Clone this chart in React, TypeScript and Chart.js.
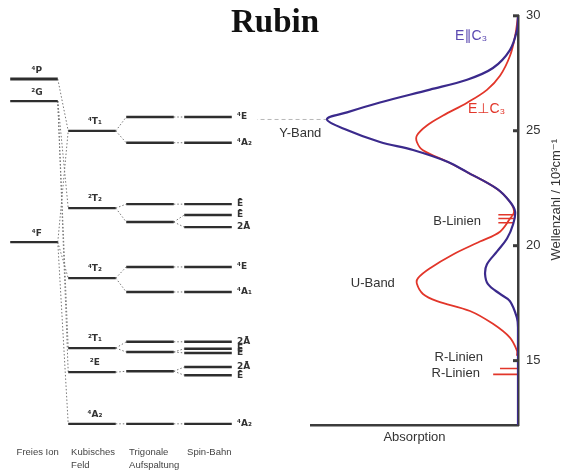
import React, { useEffect, useRef } from "react";
import { Chart, registerables } from "chart.js";

Chart.register(...registerables);

// ---------- data ----------
const WN_MIN = 12.2;
const WN_MAX = 30;
const yTickValues = [15, 20, 25, 30];

const columnLabels = [["Freies Ion"], ["Kubisches", "Feld"], ["Trigonale", "Aufspaltung"], ["Spin-Bahn"]];

const freeIonTerms = ["⁴P", "²G", "⁴F"];
const freeIonEnergies = [27.13, 26.18, 20.09];

const cubicTerms = ["⁴T₁", "²T₂", "⁴T₂", "²T₁", "²E", "⁴A₂"];
const cubicEnergies = [24.89, 21.56, 18.54, 15.52, 14.48, 12.25];
// [free-ion index, cubic index]
const cubicLinks = [[0, 0], [2, 0], [1, 1], [2, 2], [1, 3], [1, 4], [2, 5]];

const trigonalEnergies = [25.49, 24.38, 21.73, 20.96, 19.02, 17.94, 15.79, 15.35, 14.52, 12.25];
const trigonalParents = [0, 0, 1, 1, 2, 2, 3, 3, 4, 5];

const spinOrbitTerms = ["⁴E", "⁴A₂", "Ē", "Ē", "2Ā", "⁴E", "⁴A₁", "2Ā", "Ē", "Ē", "2Ā", "Ē", "⁴A₂"];
const spinOrbitEnergies = [25.49, 24.38, 21.73, 21.26, 20.74, 19.02, 17.94, 15.79, 15.49, 15.31, 14.7, 14.35, 12.25];
const spinOrbitParents = [0, 1, 2, 3, 3, 4, 5, 6, 7, 7, 8, 8, 9];

// absorption spectrum (wavenumber in 10^3 cm^-1, absorption in arbitrary units)
const wnParallel = [29.98, 29.37, 28.51, 27.73, 27.22, 26.79, 26.23, 25.8, 25.5, 25.03, 24.51, 24.16, 23.64, 23.2, 22.47, 21.91, 21.48, 20.92, 20.31, 19.75, 19.19, 18.76, 18.33, 17.9, 17.59, 16.86, 16.43, 12.2];
const absParallel = [0, 0.05, 0.39, 1.21, 2.46, 4.25, 6.67, 8.26, 9.23, 8.26, 6.67, 5.07, 3.38, 2.46, 1.01, 0.39, 0.14, 0.24, 0.53, 1.01, 1.5, 1.59, 1.45, 0.87, 0.39, 0.05, 0, 0];

const wnPerp = [29.98, 29.12, 28.25, 27.39, 26.78, 26.22, 25.66, 25.23, 24.8, 24.5, 24.15, 23.64, 23.2, 22.47, 21.91, 21.48, 21.17, 20.61, 20.18, 19.62, 19.02, 18.59, 18.33, 17.9, 17.59, 17.16, 16.6, 16.0, 15.43, 15.21];
const absPerp = [0, 0.14, 0.39, 0.87, 1.5, 2.46, 3.62, 4.4, 4.88, 4.88, 4.59, 3.38, 2.46, 1.01, 0.39, 0.19, 0.39, 0.87, 1.84, 3.14, 4.25, 4.83, 4.88, 4.59, 3.91, 2.32, 1.21, 0.39, 0.05, 0.05];

const bLineWn = [21.35, 21.18, 21.0];
const bLineAbs = [0.75, 0.75, 0.75];
const rLineWn = [14.66, 14.4];
const rLineAbs = [0.87, 1.2];

const yBandLink = { wn: 25.49, from: 9.2, to: 12.6 };

// ---------- styles ----------
const SANS = '"Liberation Sans", Arial, "DejaVu Sans", sans-serif';
const SYM = '"DejaVu Sans", "Liberation Sans", sans-serif';
const LEVEL = "#2e2e2e";
const LINK = "#777";
const AXIS = "#3c3c3c";
const TEXT = "#333";
const BLUE = "#3b2a8c";
const PURPLE = "#5a48b0";
const RED = "#e2362a";
const COL_HALF = 0.41;

const spectrumNotes = [
  { text: "Y-Band", abs: 9.5, wn: 24.9, align: "right", color: TEXT, size: 13 },
  { text: "U-Band", abs: 5.95, wn: 18.37, align: "right", color: TEXT, size: 13 },
  { text: "B-Linien", abs: 1.79, wn: 21.04, align: "right", color: TEXT, size: 13 },
  { text: "R-Linien", abs: 1.69, wn: 15.13, align: "right", color: TEXT, size: 13 },
  { text: "R-Linien", abs: 1.84, wn: 14.44, align: "right", color: TEXT, size: 13 },
  { text: "E∥C₃", abs: 3.04, wn: 29.12, align: "left", color: PURPLE, size: 14 },
  { text: "E⊥C₃", abs: 2.42, wn: 25.92, align: "left", color: RED, size: 14 },
];

function seg(x0: number, y0: number, x1: number, y1: number, color: string, width: number, dash: number[] = []) {
  return {
    data: [{ x: x0, y: y0 }, { x: x1, y: y1 }],
    borderColor: color,
    borderWidth: width,
    borderDash: dash,
    pointRadius: 0,
    showLine: true,
    tension: 0,
  };
}

function diagramConfig(): any {
  const ds: any[] = [];
  freeIonEnergies.forEach((e, i) => ds.push(seg(0 - COL_HALF, e, 0 + COL_HALF, e, LEVEL, i === 0 ? 3 : 2.2)));
  cubicEnergies.forEach((e) => ds.push(seg(1 - COL_HALF, e, 1 + COL_HALF, e, LEVEL, 2.2)));
  trigonalEnergies.forEach((e) => ds.push(seg(2 - COL_HALF, e, 2 + COL_HALF, e, LEVEL, 2.4)));
  spinOrbitEnergies.forEach((e) => ds.push(seg(3 - COL_HALF, e, 3 + COL_HALF, e, LEVEL, 2.4)));
  cubicLinks.forEach(([f, c]) =>
    ds.push(seg(0 + COL_HALF, freeIonEnergies[f], 1 - COL_HALF, cubicEnergies[c], LINK, 1, [1.5, 2]))
  );
  trigonalEnergies.forEach((e, i) =>
    ds.push(seg(1 + COL_HALF, cubicEnergies[trigonalParents[i]], 2 - COL_HALF, e, LINK, 1, [1.5, 2]))
  );
  spinOrbitEnergies.forEach((e, i) =>
    ds.push(seg(2 + COL_HALF, trigonalEnergies[spinOrbitParents[i]], 3 - COL_HALF, e, LINK, 1, [1.5, 2]))
  );

  const labelPlugin = {
    id: "termLabels",
    afterDatasetsDraw(chart: any) {
      const { ctx, scales } = chart;
      const xs = scales.x;
      const ys = scales.y;
      ctx.save();
      ctx.fillStyle = TEXT;
      ctx.font = "bold 9px " + SYM;
      ctx.textAlign = "center";
      ctx.textBaseline = "alphabetic";
      freeIonTerms.forEach((t, i) => {
        ctx.fillText(t, xs.getPixelForValue(0.05), ys.getPixelForValue(freeIonEnergies[i]) - 6);
      });
      cubicTerms.forEach((t, i) => {
        ctx.fillText(t, xs.getPixelForValue(1.05), ys.getPixelForValue(cubicEnergies[i]) - 7);
      });
      ctx.textAlign = "left";
      ctx.textBaseline = "middle";
      spinOrbitTerms.forEach((t, i) => {
        ctx.fillText(t, xs.getPixelForValue(3 + 0.5), ys.getPixelForValue(spinOrbitEnergies[i]));
      });
      ctx.restore();
    },
  };

  const labelTicks = [-0.3, 0.64, 1.64, 2.64];
  return {
    type: "scatter",
    data: { datasets: ds },
    plugins: [labelPlugin],
    options: {
      animation: false,
      responsive: false,
      devicePixelRatio: 1,
      events: [],
      layout: { padding: { top: 12.5, left: 0, right: 0, bottom: 0 } },
      plugins: { legend: { display: false }, tooltip: { enabled: false } },
      scales: {
        x: {
          type: "linear",
          min: -0.586,
          max: 4.586,
          grid: { display: false, drawTicks: false },
          border: { display: false },
          afterBuildTicks: (s: any) => {
            s.ticks = labelTicks.map((v) => ({ value: v }));
          },
          afterFit: (s: any) => {
            s.height = 45;
            s.paddingLeft = 0;
            s.paddingRight = 0;
          },
          ticks: {
            autoSkip: false,
            maxRotation: 0,
            align: "start",
            padding: 21,
            color: "#444",
            font: { size: 9.5, family: SANS, lineHeight: 1.35 },
            callback: (_v: any, i: number) => columnLabels[i],
          },
        },
        y: { type: "linear", display: false, min: WN_MIN, max: WN_MAX },
      },
    },
  };
}

function spectrumConfig(): any {
  const ds: any[] = [
    {
      data: wnParallel.map((w, i) => ({ x: absParallel[i], y: w })),
      borderColor: BLUE,
      borderWidth: 2.2,
      pointRadius: 0,
      showLine: true,
      tension: 0.35,
    },
    {
      data: wnPerp.map((w, i) => ({ x: absPerp[i], y: w })),
      borderColor: RED,
      borderWidth: 1.8,
      pointRadius: 0,
      showLine: true,
      tension: 0.35,
    },
  ];
  bLineWn.forEach((w, i) => ds.push(seg(0.2, w, 0.2 + bLineAbs[i], w, RED, 1.5)));
  rLineWn.forEach((w, i) => ds.push(seg(0, w, rLineAbs[i], w, RED, 1.6)));
  const link: any = seg(yBandLink.from, yBandLink.wn, yBandLink.to, yBandLink.wn, "#b8b8b8", 1, [4, 3]);
  link.clip = false;
  ds.push(link);

  const notesPlugin = {
    id: "notes",
    afterDraw(chart: any) {
      const { ctx, scales, chartArea } = chart;
      const xs = scales.x;
      const ys = scales.y;
      ctx.save();
      // inward tick marks
      ctx.strokeStyle = AXIS;
      ctx.lineWidth = 3;
      yTickValues.forEach((v) => {
        const y = ys.getPixelForValue(v);
        ctx.beginPath();
        ctx.moveTo(chartArea.right - 5, y);
        ctx.lineTo(chartArea.right + 1, y);
        ctx.stroke();
      });
      spectrumNotes.forEach((n) => {
        ctx.fillStyle = n.color;
        ctx.font = `${n.size}px ${SANS}`;
        ctx.textAlign = n.align;
        ctx.textBaseline = "middle";
        ctx.fillText(n.text, xs.getPixelForValue(n.abs), ys.getPixelForValue(n.wn));
      });
      // rotated axis title
      ctx.translate(chartArea.right + 38, ys.getPixelForValue(22));
      ctx.rotate(-Math.PI / 2);
      ctx.fillStyle = TEXT;
      ctx.font = `13px ${SANS}`;
      ctx.textAlign = "center";
      ctx.textBaseline = "middle";
      ctx.fillText("Wellenzahl / 10³cm⁻¹", 0, 0);
      ctx.restore();
    },
  };

  return {
    type: "scatter",
    data: { datasets: ds },
    plugins: [notesPlugin],
    options: {
      animation: false,
      responsive: false,
      devicePixelRatio: 1,
      events: [],
      layout: { padding: { top: 12.5, left: 71, right: 0, bottom: 0 } },
      plugins: { legend: { display: false }, tooltip: { enabled: false } },
      scales: {
        x: {
          type: "linear",
          min: 0,
          max: 10,
          reverse: true,
          grid: { display: false, drawTicks: false },
          ticks: { display: false },
          border: { display: true, color: AXIS, width: 2.5 },
          title: {
            display: true,
            text: "Absorption",
            color: TEXT,
            font: { size: 13, family: SANS },
            padding: { top: 0, bottom: 25 },
          },
          afterFit: (s: any) => {
            s.height = 45;
          },
        },
        y: {
          type: "linear",
          position: "right",
          min: WN_MIN,
          max: WN_MAX,
          afterBuildTicks: (s: any) => {
            s.ticks = yTickValues.map((v) => ({ value: v }));
          },
          afterFit: (s: any) => {
            s.width = 55;
          },
          grid: { display: false, drawTicks: false },
          border: { display: true, color: AXIS, width: 2.5 },
          ticks: { padding: 8, color: TEXT, font: { size: 13, family: SANS } },
        },
      },
    },
  };
}

export default function App() {
  const leftRef = useRef<HTMLCanvasElement>(null);
  const rightRef = useRef<HTMLCanvasElement>(null);
  useEffect(() => {
    const left = new Chart(leftRef.current as HTMLCanvasElement, diagramConfig());
    const right = new Chart(rightRef.current as HTMLCanvasElement, spectrumConfig());
    return () => {
      left.destroy();
      right.destroy();
    };
  }, []);
  return (
    <div style={{ position: "fixed", left: 0, top: 0, width: 573, height: 470, background: "#fff", overflow: "hidden" }}>
      <canvas ref={leftRef} width={300} height={470} style={{ position: "absolute", left: 0, top: 0, width: 300, height: 470 }} />
      <canvas ref={rightRef} width={333} height={470} style={{ position: "absolute", left: 240, top: 0, width: 333, height: 470 }} />
      <div
        style={{
          position: "absolute",
          left: 175,
          top: 5,
          width: 200,
          textAlign: "center",
          font: 'bold 33px "Liberation Serif", "DejaVu Serif", serif',
          lineHeight: "33px",
          color: "#111",
        }}
      >
        Rubin
      </div>
    </div>
  );
}
